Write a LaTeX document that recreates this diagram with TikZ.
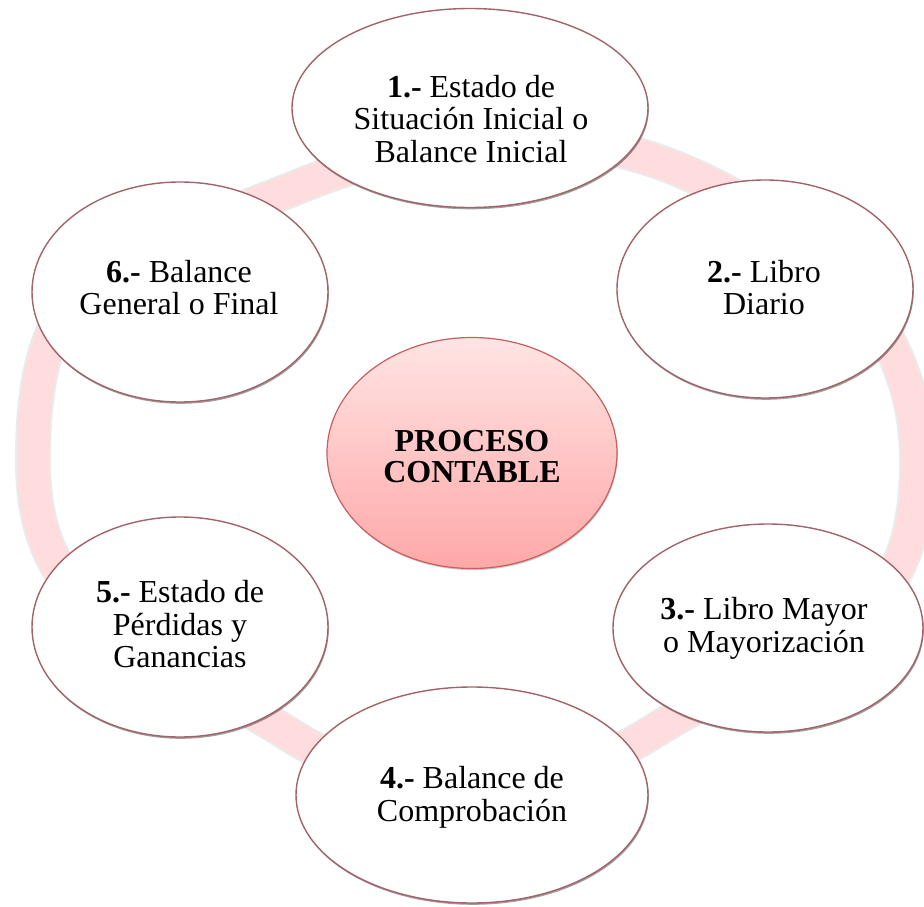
\documentclass[tikz,border=0pt]{standalone}
\usepackage{fontspec}
\setmainfont{Liberation Serif}
\usetikzlibrary{shapes.geometric,shadows}
\definecolor{ringpink}{RGB}{255,220,222}
\definecolor{ellborder}{RGB}{160,100,106}
\definecolor{ctop}{RGB}{255,228,228}
\definecolor{cbot}{RGB}{255,168,168}
\definecolor{cborder}{RGB}{200,95,95}
\tikzset{
  stage/.style={ellipse, draw=ellborder, line width=1.4pt, fill=white, inner sep=0pt,
    drop shadow={shadow xshift=0.8pt, shadow yshift=-1.8pt, opacity=0.5, fill=black!75}},
  hub/.style={ellipse, draw=cborder, line width=1.2pt, inner sep=0pt,
    top color=ctop, bottom color=cbot,
    drop shadow={shadow xshift=0.8pt, shadow yshift=-1.6pt, opacity=0.35, fill=black!60}},
  lbl/.style={align=center, inner sep=0pt, font=\fontsize{32}{32.5}\selectfont},
  hublbl/.style={align=center, inner sep=0pt, font=\fontsize{32}{31}\selectfont\bfseries}
}
\begin{document}
\begin{tikzpicture}[x=1pt,y=-1pt]
\useasboundingbox (0,0) rectangle (924,907);
\fill[white] (0,0) rectangle (924,907);
% ring (cycle band behind the stages)
\def\ringpath{(33,460) .. controls (33,260) and (115,261) .. (300,186)
  .. controls (421,137) and (559,119) .. (680,170)
  .. controls (827,233) and (917,330) .. (917,460)
  .. controls (917,640) and (821,627) .. (651,733)
  .. controls (542,801) and (404,806) .. (295,738)
  .. controls (125,632) and (33,610) .. cycle}
\draw[black, opacity=0.08, line width=36pt] \ringpath;
\draw[ringpink, line width=32pt] \ringpath;
% stage ellipses
\node[stage, minimum width=356pt, minimum height=199pt] (e1) at (470,108) {};
\node[stage, minimum width=296pt, minimum height=218pt] (e2) at (765,289) {};
\node[stage, minimum width=310pt, minimum height=208pt] (e3) at (768,628) {};
\node[stage, minimum width=352pt, minimum height=216pt] (e4) at (472,795) {};
\node[stage, minimum width=296pt, minimum height=220pt] (e5) at (180,627) {};
\node[stage, minimum width=296pt, minimum height=220pt] (e6) at (180,292) {};
% hub
\node[hub, minimum width=290pt, minimum height=231pt] (c) at (472,453) {};
% labels
\node[lbl] (t1) at (471,119) {\textbf{1.-} Estado de\\Situación Inicial o\\Balance Inicial};
\node[lbl] (t2) at (764,287.5) {\textbf{2.-} Libro\\Diario};
\node[lbl] (t3) at (764,628.5) {\textbf{3.-} Libro Mayor\\o Mayorización};
\node[lbl] (t4) at (472,797.5) {\textbf{4.-} Balance de\\Comprobación};
\node[lbl] (t5) at (180,624.5) {\textbf{5.-} Estado de\\Pérdidas y\\Ganancias};
\node[lbl] (t6) at (179,287.5) {\textbf{6.-} Balance\\General o Final};
\node[hublbl] (tc) at (472,457) {PROCESO\\CONTABLE};
\end{tikzpicture}
\end{document}
